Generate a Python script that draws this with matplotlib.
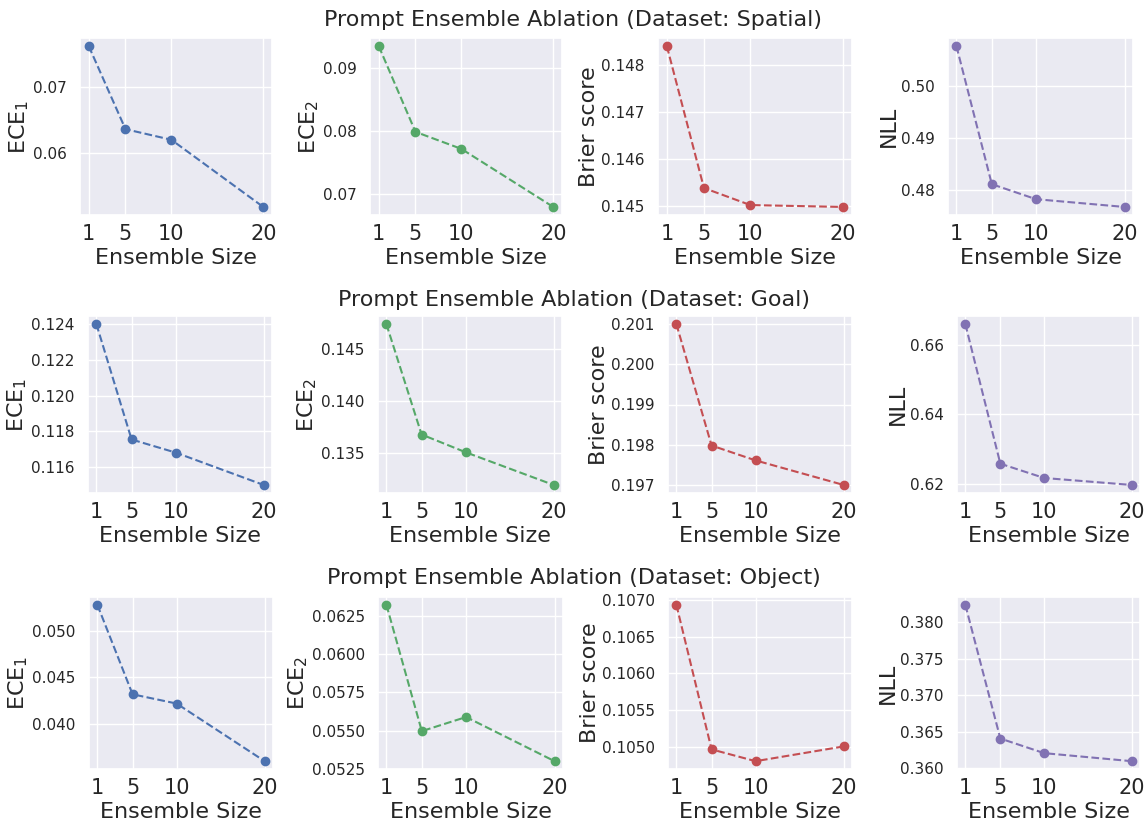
import matplotlib
matplotlib.use("Agg")
import matplotlib.pyplot as plt
import seaborn as sns

sns.set_theme(style="darkgrid", color_codes=True)
plt.rcParams['font.family'] = ['DejaVu Sans']

ensemble_sizes = [1, 5, 10, 20]
datasets = ["Spatial", "Goal", "Object"]
metric_labels = [r"ECE$_1$", r"ECE$_2$", "Brier score", "NLL"]
metric_styles = ["b--o", "g--o", "r--o", "m--o"]

# Spatial
spatial_ece1 = [0.0761, 0.0636, 0.0620, 0.0519]
spatial_ece2 = [0.0934, 0.0798, 0.0771, 0.0679]
spatial_brier = [0.14839, 0.14539, 0.14503, 0.14499]
spatial_nll = [0.5078, 0.4811, 0.4782, 0.4767]

# Goal
goal_ece1 = [0.1240, 0.11755, 0.11682, 0.11501]
goal_ece2 = [0.1474, 0.1368, 0.1351, 0.13196]
goal_brier = [0.2010, 0.19798, 0.19761, 0.1970]
goal_nll = [0.6659, 0.6258, 0.6217, 0.6197]

# Object
object_ece1 = [0.05277, 0.04319, 0.0422, 0.03603]
object_ece2 = [0.0632, 0.05496, 0.05588, 0.0530]
object_brier = [0.10693, 0.10497, 0.10481, 0.10501]
object_nll = [0.3824, 0.3641, 0.3621, 0.3610]

results = [
    [spatial_ece1, spatial_ece2, spatial_brier, spatial_nll],
    [goal_ece1, goal_ece2, goal_brier, goal_nll],
    [object_ece1, object_ece2, object_brier, object_nll],
]

W, H = 1147, 824
# axes boxes in pixels (left, right) per row, and (top, bottom) per row
col_px = [
    [(80, 272), (370, 562), (658, 852), (948, 1133)],
    [(88, 272), (378, 562), (668, 852), (957, 1140)],
    [(89, 273), (378, 563), (668, 852), (957, 1140)],
]
row_px = [(38, 215), (316, 493), (597, 769)]
title_px = [20, 300, 578]

fig = plt.figure(figsize=(W / 100, H / 100), dpi=100)

for r, name in enumerate(datasets):
    top, bot = row_px[r]
    for c in range(4):
        l, rt = col_px[r][c]
        ax = fig.add_axes([l / W, 1 - bot / H, (rt - l) / W, (bot - top) / H])
        ax.plot(ensemble_sizes, results[r][c], metric_styles[c], markersize=6)
        ax.set_xticks(ensemble_sizes)
        ax.tick_params(axis='x', labelsize=15, pad=0.5)
        ax.tick_params(axis='y', labelsize=11)
        ax.set_xlabel("Ensemble Size", fontsize=16, labelpad=3)
        ax.set_ylabel(metric_labels[c], fontsize=16, labelpad=1.5)
    fig.text(0.5, 1 - title_px[r] / H,
             "Prompt Ensemble Ablation (Dataset: %s)" % name,
             ha='center', va='center', fontsize=16)

fig.savefig("out.png", dpi=100)
